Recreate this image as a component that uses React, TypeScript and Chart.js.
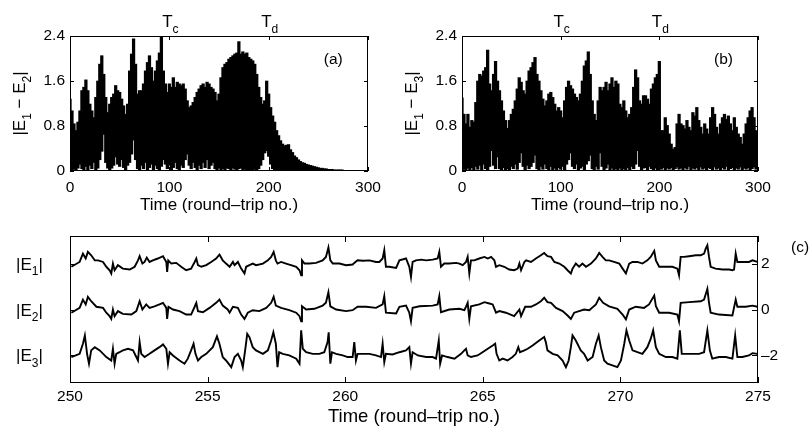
import React, { useEffect, useRef } from "react";
import { Chart, registerables } from "chart.js";

Chart.register(...registerables);

const FONT = '"Liberation Sans", Arial, Helvetica, sans-serif';

// ---------------- Panels (a) and (b): envelope of the fast oscillation, one sample every 2 round trips (t = 0..300)
const SAMPLE_STEP = 2;

const upperA = [
  1.28, 1.07, 0.84, 0.72, 0.87, 1.07, 1.43, 1.49, 1.62, 1.43,
  1.19, 1.07, 0.95, 1.31, 1.6, 1.9, 2.05, 1.72, 1.31, 1.04,
  1.19, 1.31, 1.37, 1.52, 1.43, 1.4, 1.28, 1.16, 1.01, 1.19,
  1.78, 2.08, 2.35, 1.9, 1.37, 1.43, 1.43, 1.55, 1.78, 1.93,
  2.05, 1.84, 1.6, 1.78, 1.96, 2.1, 2.38, 1.78, 1.55, 1.4,
  1.55, 1.49, 1.66, 1.49, 1.58, 1.55, 1.52, 1.55, 1.46, 1.25,
  1.13, 1.16, 1.22, 1.31, 1.4, 1.46, 1.52, 1.55, 1.49, 1.58,
  1.55, 1.49, 1.46, 1.4, 1.25, 1.37, 1.66, 1.84, 1.9, 1.93,
  1.99, 2.02, 2.05, 2.08, 2.1, 2.3, 2.08, 2.12, 2.08, 2.1,
  2.02, 1.99, 1.96, 1.9, 1.72, 1.49, 1.31, 1.19, 1.25, 1.6,
  1.37, 1.13, 0.98, 0.87, 0.72, 0.63, 0.54, 0.48, 0.45, 0.46,
  0.47, 0.38, 0.33, 0.27, 0.24, 0.2, 0.17, 0.15, 0.14, 0.12,
  0.11, 0.1, 0.09, 0.08, 0.07, 0.06, 0.05, 0.05, 0.04, 0.04,
  0.03, 0.03, 0.03, 0.02, 0.02, 0.02, 0.02, 0.02, 0.01, 0.01,
  0.01, 0.01, 0.01, 0.01, 0.01, 0.01, 0.01, 0.01, 0.01, 0.01,
  0.01,
];

const lowerA = [
  0, 0.01, 0.03, 0.02, 0.05, 0.12, 0.04, 0.02, 0.08, 0.02,
  0.1, 0.04, 0.15, 0.02, 0.05, 0.2, 0.35, 0.65, 0.15, 0.05,
  0.01, 0.05, 0.1, 0.25, 0.12, 0.08, 0.2, 0.06, 0.02, 0.1,
  0.15, 0.3, 0.55, 0.2, 0.04, 0.02, 0.1, 0.04, 0.15, 0.02,
  0.06, 0.12, 0.02, 0.1, 0.04, 0.01, 0.08, 0.2, 0.12, 0.04,
  0.1, 0.02, 0.06, 0.15, 0.04, 0.02, 0.1, 0.06, 0.2, 0.3,
  0.1, 0.04, 0.15, 0.06, 0.02, 0.1, 0.04, 0.15, 0.06, 0.2,
  0.04, 0.1, 0.15, 0.04, 0.02, 0.05, 0.02, 0.04, 0.02, 0.05,
  0.04, 0.02, 0.05, 0.03, 0.02, 0.04, 0.05, 0.02, 0.03, 0.01,
  0.02, 0.01, 0.02, 0.03, 0.02, 0.04, 0.1, 0.2, 0.32, 0.36,
  0.26, 0.12, 0.04, 0.01, 0, 0, 0, 0, 0, 0,
  0, 0, 0, 0, 0, 0, 0, 0, 0, 0,
  0, 0, 0, 0, 0, 0, 0, 0, 0, 0,
  0, 0, 0, 0, 0, 0, 0, 0, 0, 0,
  0, 0, 0, 0, 0, 0, 0, 0, 0, 0,
  0,
];

const upperB = [
  1.3, 1.01, 0.84, 1.01, 0.78, 0.9, 0.87, 1.22, 1.6, 1.72,
  1.69, 1.78, 1.84, 2.15, 1.55, 1.43, 1.72, 1.95, 1.6, 1.43,
  1.25, 1.07, 0.9, 0.76, 0.9, 1.01, 1.1, 1.25, 1.46, 1.66,
  1.58, 1.43, 1.37, 1.6, 1.78, 1.84, 1.93, 2.02, 1.72, 1.6,
  1.43, 1.28, 1.16, 1.25, 1.37, 1.4, 1.31, 1.19, 1.07, 1.13,
  1.07, 0.95, 1.25, 1.49, 1.6, 1.52, 1.46, 1.37, 1.31, 1.25,
  1.37, 1.6, 1.87, 1.96, 2.12, 1.72, 1.25, 1.01, 0.9, 1.25,
  1.49, 1.43, 1.49, 1.58, 1.43, 1.55, 1.66, 1.49, 1.6, 1.55,
  1.19, 1.13, 1.25, 1.07, 0.95, 1.01, 1.13, 1.49, 1.8, 1.66,
  1.25, 1.19, 1.34, 1.34, 1.28, 1.19, 1.46, 1.55, 1.66, 1.72,
  1.95, 0.72, 0.72, 0.95, 0.81, 0.66, 0.48, 0.39, 0.42, 0.84,
  1.01, 0.84, 0.81, 0.75, 0.9, 0.78, 0.72, 1.04, 0.98, 1.13,
  0.9, 0.78, 0.66, 0.84, 0.75, 0.66, 0.95, 1.13, 1.01, 0.78,
  0.66, 0.84, 0.95, 1.01, 0.92, 0.98, 0.84, 0.72, 0.95, 0.78,
  0.66, 0.6, 0.48, 0.66, 0.84, 0.95, 1.07, 1.13, 0.95, 0.72,
  0.7,
];

const lowerB = [
  0.01, 0.03, 0.01, 0.05, 0.02, 0.06, 0.02, 0.08, 0.03, 0.1,
  0.02, 0.12, 0.04, 0.02, 0.08, 0.36, 0.1, 0.04, 0.25, 0.04,
  0.02, 0.06, 0.01, 0.04, 0.01, 0.08, 0.04, 0.12, 0.03, 0.15,
  0.32, 0.08, 0.02, 0.1, 0.04, 0.08, 0.15, 0.28, 0.04, 0.02,
  0.08, 0.03, 0.12, 0.04, 0.02, 0.08, 0.01, 0.05, 0.02, 0.06,
  0.03, 0.08, 0.02, 0.12, 0.2, 0.32, 0.08, 0.04, 0.12, 0.02,
  0.05, 0.08, 0.02, 0.12, 0.18, 0.28, 0.04, 0.02, 0.08, 0.03,
  0.32, 0.08, 0.02, 0.05, 0.12, 0.02, 0.05, 0.01, 0.04, 0.02,
  0.05, 0.01, 0.04, 0.02, 0.06, 0.02, 0.08, 0.04, 0.12, 0.36,
  0.08, 0.02, 0.05, 0.06, 0.02, 0.08, 0.04, 0.01, 0.05, 0.02,
  0.08, 0.03, 0.06, 0.02, 0.05, 0.03, 0.06, 0.02, 0.04, 0.07,
  0.03, 0.05, 0.02, 0.06, 0.03, 0.08, 0.02, 0.05, 0.03, 0.06,
  0.02, 0.07, 0.03, 0.05, 0.02, 0.06, 0.04, 0.02, 0.07, 0.03,
  0.05, 0.02, 0.06, 0.03, 0.08, 0.02, 0.04, 0.06, 0.02, 0.05,
  0.03, 0.07, 0.02, 0.05, 0.03, 0.06, 0.02, 0.04, 0.07, 0.03,
  0.05,
];

const xTicksAB = [0, 100, 200, 300];
const yTicksAB = [0, 0.8, 1.6, 2.4];
const markerTimes = [100, 200];
const markerSubs = ["c", "d"];

// ---------------- Panel (c): |E1|, |E2|, |E3| (vertically offset traces), [round trip, value]
const traceE1 = [
  [250.05, 1.86], [250.35, 2.07], [250.47, 2.43], [250.57, 2.22], [250.65, 2.51], [250.77, 2.36], [250.9, 2.14], [251.02, 2.14],
  [251.2, 2.07], [251.32, 1.86], [251.44, 1.71], [251.5, 1.57], [251.56, 2.0], [251.62, 1.71], [251.74, 1.93], [251.92, 1.78],
  [252.17, 1.74], [252.35, 1.86], [252.47, 2.14], [252.53, 2.32], [252.63, 2.0], [252.71, 2.07], [252.79, 2.26], [252.89, 2.07],
  [253.01, 2.14], [253.19, 2.22], [253.38, 2.32], [253.5, 2.07], [253.53, 1.64], [253.57, 2.14], [253.68, 2.0], [253.86, 2.03],
  [254.04, 1.86], [254.22, 1.71], [254.4, 1.78], [254.53, 2.07], [254.59, 2.22], [254.65, 1.93], [254.77, 1.86], [254.95, 1.93],
  [255.13, 2.07], [255.31, 2.22], [255.43, 2.39], [255.55, 2.14], [255.67, 2.0], [255.8, 1.86], [255.92, 2.07], [255.98, 1.93],
  [256.1, 2.07], [256.22, 1.78], [256.34, 1.57], [256.4, 1.86], [256.52, 1.93], [256.64, 2.0], [256.76, 1.93], [257.01, 2.0],
  [257.19, 2.14], [257.31, 2.29], [257.4, 2.51], [257.48, 2.14], [257.54, 2.0], [257.67, 2.07], [257.85, 2.0], [258.03, 1.93],
  [258.22, 1.86], [258.34, 1.71], [258.4, 1.49], [258.43, 2.14], [258.52, 2.0], [258.7, 2.0], [258.94, 2.03], [259.18, 2.14],
  [259.3, 2.29], [259.39, 2.7], [259.46, 2.14], [259.55, 2.0], [259.79, 2.0], [260.03, 1.93], [260.27, 1.96], [260.33, 2.03],
  [260.45, 2.14], [260.64, 2.12], [260.88, 2.14], [261.12, 2.07], [261.24, 2.07], [261.36, 2.22], [261.42, 2.58], [261.48, 1.86],
  [261.6, 1.86], [261.85, 1.81], [261.97, 2.14], [262.21, 2.22], [262.33, 1.86], [262.39, 1.42], [262.45, 2.07], [262.57, 2.14],
  [262.76, 2.17], [262.94, 2.14], [263.18, 2.17], [263.36, 2.22], [263.42, 2.51], [263.48, 1.86], [263.6, 2.0], [263.78, 2.0],
  [264.03, 2.03], [264.15, 2.0], [264.27, 1.93], [264.39, 2.07], [264.45, 2.29], [264.51, 1.57], [264.57, 2.14], [264.69, 2.14],
  [264.87, 2.22], [265.06, 2.29], [265.18, 2.22], [265.3, 2.29], [265.42, 2.14], [265.48, 1.86], [265.6, 1.93], [265.78, 1.86],
  [265.96, 1.74], [266.14, 1.71], [266.27, 1.78], [266.33, 2.0], [266.39, 1.71], [266.51, 2.07], [266.57, 2.14], [266.75, 2.07],
  [266.93, 2.22], [267.11, 2.36], [267.23, 2.46], [267.35, 2.32], [267.48, 2.29], [267.6, 2.07], [267.78, 2.0], [267.96, 1.86],
  [268.08, 1.71], [268.2, 1.57], [268.26, 1.78], [268.38, 2.0], [268.5, 1.86], [268.62, 2.0], [268.75, 1.86], [268.93, 2.0],
  [269.11, 2.22], [269.23, 2.46], [269.35, 2.29], [269.47, 2.14], [269.59, 2.14], [269.77, 2.07], [269.96, 2.0], [270.08, 1.78],
  [270.2, 1.57], [270.32, 2.0], [270.44, 2.07], [270.62, 2.07], [270.8, 2.0], [270.98, 2.14], [271.1, 2.29], [271.23, 2.55],
  [271.29, 2.14], [271.41, 1.86], [271.65, 1.86], [271.89, 1.86], [272.07, 1.78], [272.13, 1.49], [272.19, 2.29], [272.31, 2.29],
  [272.5, 2.32], [272.74, 2.36], [272.92, 2.36], [273.04, 2.43], [273.1, 2.65], [273.16, 2.8], [273.22, 2.29], [273.28, 1.86],
  [273.46, 1.78], [273.71, 1.74], [273.95, 1.74], [274.07, 1.71], [274.13, 1.74], [274.19, 2.43], [274.25, 2.07], [274.43, 2.07],
  [274.67, 2.07], [274.8, 2.14], [274.98, 2.07],
];

const traceE2 = [
  [250.05, -0.14], [250.35, 0.07], [250.47, 0.43], [250.57, 0.22], [250.65, 0.55], [250.77, 0.36], [250.96, 0.12], [251.2, 0.07],
  [251.32, -0.14], [251.44, -0.29], [251.5, -0.41], [251.56, 0.0], [251.62, -0.29], [251.74, -0.07], [251.92, -0.19], [252.23, -0.22],
  [252.41, -0.07], [252.53, 0.36], [252.63, 0.0], [252.77, 0.22], [252.89, 0.07], [253.07, 0.14], [253.25, 0.22], [253.38, 0.29],
  [253.5, 0.07], [253.53, -0.41], [253.58, 0.12], [253.74, 0.0], [253.98, -0.07], [254.22, -0.22], [254.4, -0.22], [254.53, 0.12],
  [254.59, 0.29], [254.65, -0.07], [254.83, -0.12], [255.07, 0.07], [255.31, 0.29], [255.43, 0.43], [255.55, 0.17], [255.73, 0.0],
  [255.8, -0.14], [255.92, 0.12], [256.1, 0.07], [256.22, -0.22], [256.34, -0.41], [256.46, -0.14], [256.64, -0.03], [256.88, -0.07],
  [257.13, 0.07], [257.31, 0.29], [257.4, 0.55], [257.48, 0.17], [257.67, 0.07], [257.97, -0.03], [258.22, -0.14], [258.34, -0.29],
  [258.4, -0.51], [258.43, 0.14], [258.58, 0.0], [258.88, 0.03], [259.18, 0.17], [259.3, 0.29], [259.39, 0.75], [259.46, 0.14],
  [259.67, 0.0], [260.03, -0.07], [260.27, -0.03], [260.45, 0.12], [260.76, 0.12], [261.12, 0.07], [261.36, 0.22], [261.42, 0.58],
  [261.48, -0.14], [261.85, -0.17], [261.97, 0.12], [262.21, 0.17], [262.33, -0.14], [262.39, -0.51], [262.45, 0.07], [262.7, 0.14],
  [263.18, 0.17], [263.36, 0.22], [263.42, 0.58], [263.48, -0.12], [263.78, 0.0], [264.15, 0.03], [264.33, -0.03], [264.39, 0.12],
  [264.45, 0.29], [264.51, -0.41], [264.57, 0.14], [264.87, 0.22], [265.06, 0.32], [265.24, 0.26], [265.36, 0.22], [265.48, -0.14],
  [265.6, -0.07], [265.84, -0.14], [266.14, -0.29], [266.33, 0.0], [266.39, -0.29], [266.54, 0.12], [266.75, 0.12], [266.93, 0.22],
  [267.11, 0.36], [267.23, 0.51], [267.35, 0.32], [267.48, 0.29], [267.66, 0.07], [267.9, -0.07], [268.08, -0.26], [268.2, -0.41],
  [268.32, -0.14], [268.5, -0.07], [268.68, 0.0], [268.87, -0.03], [269.11, 0.22], [269.23, 0.51], [269.37, 0.29], [269.59, 0.14],
  [269.89, 0.03], [270.08, -0.22], [270.2, -0.43], [270.32, 0.0], [270.56, 0.12], [270.86, 0.07], [271.04, 0.22], [271.23, 0.61],
  [271.29, 0.14], [271.41, -0.14], [271.77, -0.14], [272.07, -0.22], [272.13, -0.51], [272.19, 0.29], [272.5, 0.32], [272.92, 0.36],
  [273.04, 0.43], [273.16, 0.9], [273.22, 0.29], [273.28, -0.14], [273.58, -0.22], [274.07, -0.26], [274.19, 0.43], [274.25, 0.12],
  [274.55, 0.12], [274.8, 0.17], [274.98, 0.12],
];

const traceE3 = [
  [250.05, -2.07], [250.35, -1.93], [250.47, -1.49], [250.54, -1.13], [250.62, -1.93], [250.69, -2.36], [250.77, -1.78], [250.9, -1.64],
  [251.08, -1.78], [251.32, -2.07], [251.5, -2.22], [251.56, -1.71], [251.62, -2.36], [251.68, -1.93], [251.8, -1.86], [251.92, -1.78],
  [252.11, -1.71], [252.29, -1.78], [252.41, -2.07], [252.47, -2.22], [252.53, -1.42], [252.59, -1.93], [252.71, -2.07], [252.89, -1.93],
  [253.07, -1.78], [253.25, -1.64], [253.38, -1.52], [253.5, -1.71], [253.56, -2.36], [253.62, -1.86], [253.74, -2.0], [253.98, -2.22],
  [254.16, -2.36], [254.28, -2.14], [254.4, -1.78], [254.49, -1.49], [254.56, -1.93], [254.65, -2.22], [254.77, -2.07], [254.95, -1.93],
  [255.19, -1.64], [255.34, -1.17], [255.43, -1.49], [255.55, -2.07], [255.67, -2.22], [255.86, -2.51], [255.98, -2.07], [256.1, -1.93],
  [256.22, -2.22], [256.28, -2.51], [256.38, -1.64], [256.44, -1.06], [256.52, -1.2], [256.64, -1.64], [256.76, -1.78], [257.01, -1.93],
  [257.19, -1.78], [257.31, -1.35], [257.39, -0.99], [257.48, -1.49], [257.54, -2.51], [257.6, -1.86], [257.73, -1.93], [257.97, -2.0],
  [258.22, -2.14], [258.34, -2.36], [258.4, -0.91], [258.46, -1.71], [258.58, -1.86], [258.82, -1.93], [259.06, -1.93], [259.24, -1.86],
  [259.36, -1.42], [259.4, -0.99], [259.46, -2.36], [259.52, -1.86], [259.67, -1.93], [259.91, -2.0], [260.09, -2.07], [260.27, -2.07],
  [260.33, -1.42], [260.39, -2.22], [260.45, -1.93], [260.64, -1.93], [260.88, -1.93], [261.12, -2.0], [261.3, -2.07], [261.36, -1.49],
  [261.42, -2.29], [261.48, -1.93], [261.72, -1.96], [261.97, -1.86], [262.21, -1.78], [262.33, -1.64], [262.39, -2.36], [262.45, -1.86],
  [262.64, -2.0], [262.94, -2.07], [263.18, -2.07], [263.3, -2.14], [263.4, -1.35], [263.45, -2.36], [263.52, -2.0], [263.72, -2.07],
  [263.97, -2.14], [264.21, -1.93], [264.33, -1.78], [264.39, -1.71], [264.45, -2.0], [264.57, -2.07], [264.81, -2.0], [264.99, -1.86],
  [265.18, -1.71], [265.36, -1.57], [265.45, -1.49], [265.5, -1.93], [265.6, -2.22], [265.72, -2.14], [265.9, -2.22], [266.08, -2.07],
  [266.2, -1.93], [266.29, -1.64], [266.35, -1.86], [266.51, -1.78], [266.63, -1.71], [266.81, -1.57], [267.05, -1.35], [267.23, -1.2],
  [267.29, -1.42], [267.35, -1.78], [267.54, -1.93], [267.72, -2.0], [267.9, -2.22], [268.02, -2.51], [268.12, -2.22], [268.2, -1.64],
  [268.26, -1.13], [268.38, -1.35], [268.56, -1.78], [268.68, -1.93], [268.81, -2.22], [268.99, -2.07], [269.11, -1.49], [269.21, -1.13],
  [269.29, -1.64], [269.41, -2.22], [269.53, -2.36], [269.71, -2.43], [269.89, -2.51], [270.02, -2.22], [270.14, -1.49], [270.22, -0.91],
  [270.32, -1.35], [270.44, -1.78], [270.62, -1.86], [270.8, -1.93], [270.98, -1.64], [271.1, -1.28], [271.19, -0.91], [271.29, -1.64],
  [271.41, -1.93], [271.65, -2.07], [271.89, -2.07], [272.07, -2.14], [272.16, -0.91], [272.23, -1.93], [272.31, -1.93], [272.62, -1.93],
  [272.86, -1.93], [273.04, -1.86], [273.16, -0.91], [273.25, -1.78], [273.34, -2.14], [273.58, -2.07], [273.83, -2.07], [274.07, -2.14],
  [274.17, -1.13], [274.25, -2.07], [274.43, -2.07], [274.67, -2.0], [274.8, -1.9], [274.98, -1.93],
];

const xTicksC = [250, 255, 260, 265, 270, 275];
const yTicksC = [-2, 0, 2];
const traceSubs = ["1", "2", "3"];
const traceLevels = [2, 0, -2];

// ---------------- helpers
type Part = { t: string; sub?: boolean };

function drawRich(ctx: CanvasRenderingContext2D, parts: Part[], x: number, y: number, size: number, align: "left" | "center" | "right") {
  const subSize = Math.round(size * 0.68);
  const mainFont = `${size}px ${FONT}`;
  const subFont = `${subSize}px ${FONT}`;
  let total = 0;
  const widths = parts.map((p) => {
    ctx.font = p.sub ? subFont : mainFont;
    const w = ctx.measureText(p.t).width;
    total += w;
    return w;
  });
  let cx = align === "center" ? x - total / 2 : align === "right" ? x - total : x;
  ctx.textAlign = "left";
  ctx.textBaseline = "alphabetic";
  parts.forEach((p, i) => {
    ctx.font = p.sub ? subFont : mainFont;
    ctx.fillText(p.t, cx, p.sub ? y + size * 0.33 : y);
    cx += widths[i];
  });
}

function framePlugin(cfg: { xTicks: number[]; yTicks: number[]; tickLen: number; extra?: (ctx: CanvasRenderingContext2D, chart: any) => void }) {
  return {
    id: "frameTicks",
    afterDraw(chart: any) {
      const { ctx, chartArea } = chart;
      const { left, right, top, bottom } = chartArea;
      const xs = chart.scales.x;
      const ys = chart.scales.y;
      ctx.save();
      ctx.strokeStyle = "#000";
      ctx.lineWidth = 1;
      ctx.strokeRect(left + 0.5, top + 0.5, right - left - 1, bottom - top - 1);
      ctx.beginPath();
      for (const v of cfg.xTicks) {
        const px = Math.round(xs.getPixelForValue(v)) + 0.5;
        ctx.moveTo(px, bottom);
        ctx.lineTo(px, bottom - cfg.tickLen);
        ctx.moveTo(px, top);
        ctx.lineTo(px, top + cfg.tickLen);
      }
      for (const v of cfg.yTicks) {
        const py = Math.round(ys.getPixelForValue(v)) + 0.5;
        ctx.moveTo(left, py);
        ctx.lineTo(left + cfg.tickLen, py);
        ctx.moveTo(right, py);
        ctx.lineTo(right - cfg.tickLen, py);
      }
      ctx.stroke();
      ctx.fillStyle = "#000";
      if (cfg.extra) cfg.extra(ctx, chart);
      ctx.restore();
    },
  };
}

const tickFont = { family: FONT, size: 15.5 };

function makeAB(canvas: HTMLCanvasElement, upper: number[], lower: number[], diffSub: string, tag: string, yWidth: number, rightPad: number) {
  return new Chart(canvas, {
    type: "bar",
    data: {
      datasets: [
        {
          data: upper.map((hi, i) => ({ x: i * SAMPLE_STEP, y: [lower[i], hi] })),
          backgroundColor: "#000",
          borderWidth: 0,
          barThickness: 2.6,
          grouped: false,
        } as any,
      ],
    },
    options: {
      responsive: false,
      animation: false,
      events: [],
      layout: { padding: { left: 0, right: rightPad, top: 36, bottom: 0 } },
      plugins: { legend: { display: false }, tooltip: { enabled: false } },
      scales: {
        x: {
          type: "linear",
          min: 0,
          max: 300,
          offset: false,
          grid: { display: false, drawTicks: false },
          border: { display: false },
          ticks: { font: tickFont, color: "#000", padding: 7, maxRotation: 0, autoSkip: false, callback: (v: any) => String(v) },
          afterBuildTicks: (s: any) => {
            s.ticks = xTicksAB.map((value) => ({ value }));
          },
          title: { display: true, text: "Time (round\u2013trip no.)", font: { family: FONT, size: 17 }, color: "#000", padding: 0 },
          afterFit: (s: any) => {
            s.height = 45;
          },
        },
        y: {
          type: "linear",
          min: 0,
          max: 2.4,
          grid: { display: false, drawTicks: false },
          border: { display: false },
          ticks: { font: tickFont, color: "#000", padding: 5, autoSkip: false, callback: (v: any) => String(v) },
          afterBuildTicks: (s: any) => {
            s.ticks = yTicksAB.map((value) => ({ value }));
          },
          afterFit: (s: any) => {
            s.width = yWidth;
          },
        },
      },
    } as any,
    plugins: [
      framePlugin({
        xTicks: xTicksAB,
        yTicks: yTicksAB,
        tickLen: 4,
        extra: (ctx, chart) => {
          const { chartArea } = chart;
          const xs = chart.scales.x;
          const ys = chart.scales.y;
          markerTimes.forEach((t, i) => {
            drawRich(ctx, [{ t: "T" }, { t: markerSubs[i], sub: true }], xs.getPixelForValue(t) + 1, chartArea.top - 9, 17, "center");
          });
          ctx.font = `15.5px ${FONT}`;
          ctx.textAlign = "center";
          ctx.textBaseline = "middle";
          ctx.fillText(tag, xs.getPixelForValue(265), ys.getPixelForValue(1.97));
          ctx.save();
          ctx.translate(chartArea.left - 45, (chartArea.top + chartArea.bottom) / 2);
          ctx.rotate(-Math.PI / 2);
          drawRich(ctx, [{ t: "|E" }, { t: "1", sub: true }, { t: " \u2212 E" }, { t: diffSub, sub: true }, { t: "|" }], 0, 0, 17, "center");
          ctx.restore();
        },
      }),
    ],
  });
}

function makeC(canvas: HTMLCanvasElement) {
  const traces = [traceE1, traceE2, traceE3];
  return new Chart(canvas, {
    type: "line",
    data: {
      datasets: traces.map((tr) => ({
        data: tr.map(([x, y]) => ({ x, y })),
        borderColor: "#000",
        borderWidth: 1.9,
        pointRadius: 0,
        tension: 0,
        fill: false,
      })),
    },
    options: {
      responsive: false,
      animation: false,
      events: [],
      layout: { padding: { left: 0, right: 0, top: 21, bottom: 0 } },
      plugins: { legend: { display: false }, tooltip: { enabled: false } },
      scales: {
        x: {
          type: "linear",
          min: 250,
          max: 275,
          grid: { display: false, drawTicks: false },
          border: { display: false },
          ticks: { font: tickFont, color: "#000", padding: 4, maxRotation: 0, autoSkip: false, callback: (v: any) => String(v) },
          afterBuildTicks: (s: any) => {
            s.ticks = xTicksC.map((value) => ({ value }));
          },
          title: { display: true, text: "Time (round\u2013trip no.)", font: { family: FONT, size: 18.5 }, color: "#000", padding: 0 },
          afterFit: (s: any) => {
            s.height = 45;
          },
        },
        y: {
          type: "linear",
          position: "left",
          min: -3.2,
          max: 3.2,
          grid: { display: false, drawTicks: false },
          border: { display: false },
          ticks: { display: false },
          afterFit: (s: any) => {
            s.width = 70;
          },
        },
        y2: {
          type: "linear",
          position: "right",
          min: -3.2,
          max: 3.2,
          grid: { display: false, drawTicks: false },
          border: { display: false },
          ticks: {
            font: tickFont,
            color: "#000",
            padding: 3,
            autoSkip: false,
            callback: (v: any) => (v < 0 ? "\u2013" + String(-v) : String(v)),
          },
          afterBuildTicks: (s: any) => {
            s.ticks = yTicksC.map((value) => ({ value }));
          },
          afterFit: (s: any) => {
            s.width = 53;
          },
        },
      },
    } as any,
    plugins: [
      framePlugin({
        xTicks: xTicksC,
        yTicks: yTicksC,
        tickLen: 6,
        extra: (ctx, chart) => {
          const { chartArea } = chart;
          const ys = chart.scales.y;
          traceLevels.forEach((lvl, i) => {
            drawRich(ctx, [{ t: "|E" }, { t: traceSubs[i], sub: true }, { t: "|" }], 16, ys.getPixelForValue(lvl) + 6, 17, "left");
          });
          ctx.font = `15.5px ${FONT}`;
          ctx.textAlign = "center";
          ctx.textBaseline = "middle";
          ctx.fillText("(c)", chartArea.right + 42, chartArea.top + 12);
        },
      }),
    ],
  });
}

export default function App() {
  const refA = useRef<HTMLCanvasElement>(null);
  const refB = useRef<HTMLCanvasElement>(null);
  const refC = useRef<HTMLCanvasElement>(null);

  useEffect(() => {
    const a = makeAB(refA.current!, upperA, lowerA, "2", "(a)", 70, 32);
    const b = makeAB(refB.current!, upperB, lowerB, "3", "(b)", 62, 53);
    const c = makeC(refC.current!);
    return () => {
      a.destroy();
      b.destroy();
      c.destroy();
    };
  }, []);

  return (
    <div style={{ position: "absolute", left: 0, top: 0, width: 811, height: 428, background: "#fff", overflow: "hidden" }}>
      <canvas ref={refA} width={400} height={216} style={{ position: "absolute", left: 0, top: 0 }} />
      <canvas ref={refB} width={411} height={216} style={{ position: "absolute", left: 400, top: 0 }} />
      <canvas ref={refC} width={811} height={213} style={{ position: "absolute", left: 0, top: 215 }} />
    </div>
  );
}
